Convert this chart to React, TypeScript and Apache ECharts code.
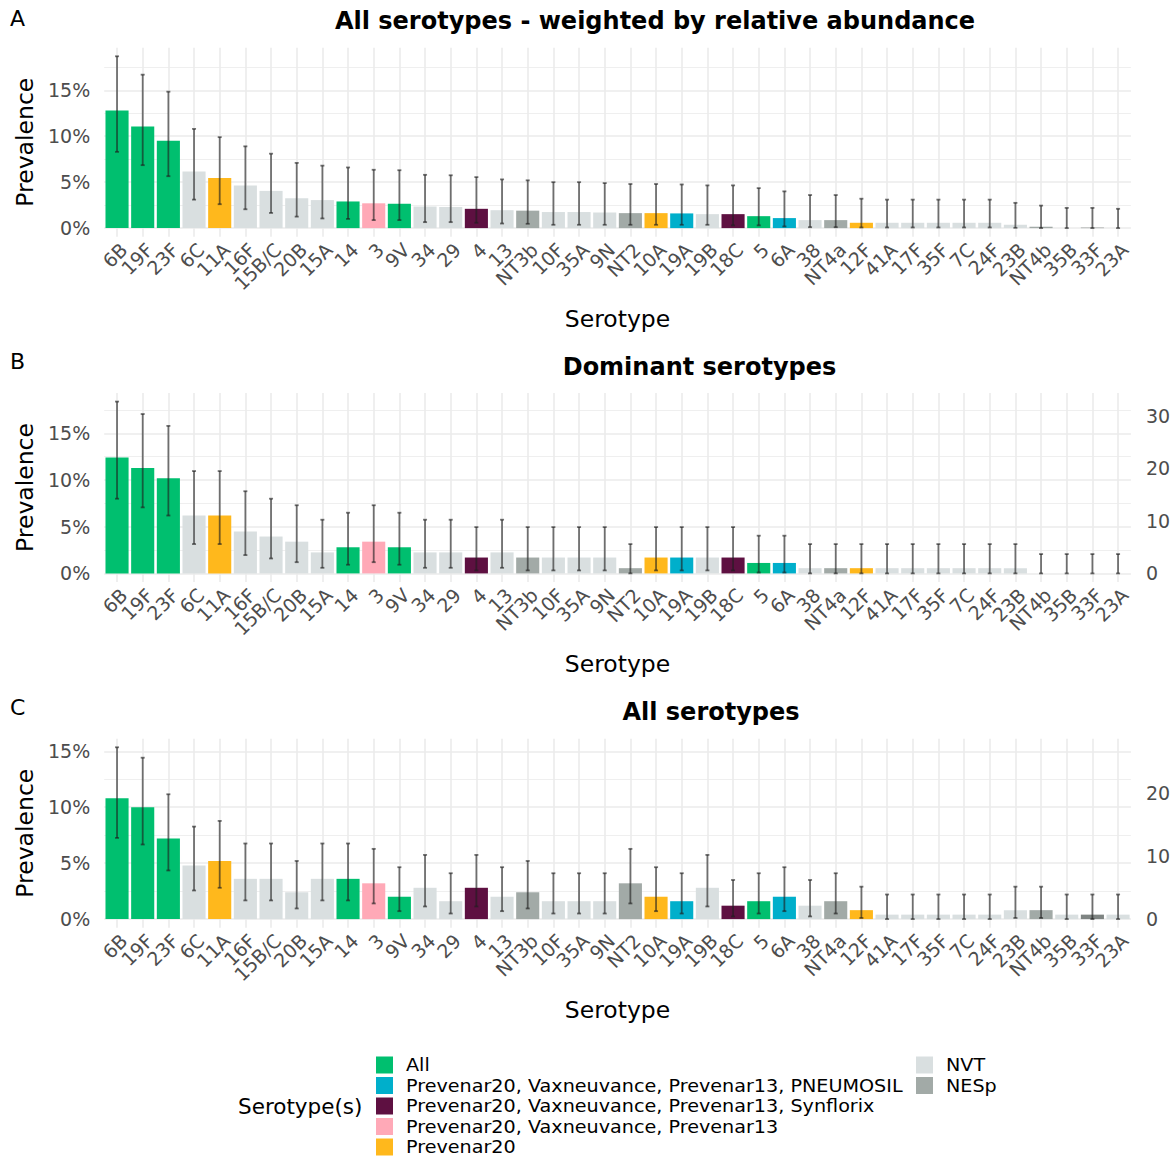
import React, { useEffect, useRef } from "react";
import * as echarts from "echarts";

// ---------- data ----------
const categories = ["6B","19F","23F","6C","11A","16F","15B/C","20B","15A","14","3","9V","34","29","4","13","NT3b","10F","35A","9N","NT2","10A","19A","19B","18C","5","6A","38","NT4a","12F","41A","17F","35F","7C","24F","23B","NT4b","35B","33F","23A"];

const groups = ["All","All","All","NVT","P20","NVT","NVT","NVT","NVT","All","P13","All","NVT","NVT","SYN","NVT","NES","NVT","NVT","NVT","NES","P20","PNE","NVT","SYN","All","PNE","NVT","NES","P20","NVT","NVT","NVT","NVT","NVT","NVT","NES","NVT","X","NVT"];

// Panel A: weighted by relative abundance (%)
const aValue = [12.8,11.05,9.5,6.15,5.45,4.65,4.05,3.25,3.05,2.9,2.7,2.65,2.35,2.3,2.1,1.95,1.9,1.75,1.75,1.7,1.63,1.63,1.6,1.52,1.52,1.3,1.09,0.87,0.87,0.58,0.58,0.58,0.58,0.58,0.58,0.36,0.15,0,0.05,0];
const aLow = [8.3,6.85,5.65,3.1,2.6,2.05,1.65,1.25,1.05,1.0,0.87,0.87,0.65,0.65,0.58,0.5,0.47,0.36,0.36,0.36,0.36,0.36,0.36,0.36,0.3,0.3,0.18,0.1,0.1,0.07,0.07,0.07,0.07,0.07,0.07,0.03,0,0,0,0];
const aHigh = [18.7,16.7,14.85,10.8,9.9,8.9,8.1,7.1,6.8,6.6,6.35,6.3,5.8,5.75,5.55,5.3,5.2,5.0,5.0,4.9,4.8,4.8,4.75,4.65,4.65,4.35,4.0,3.6,3.6,3.2,3.1,3.1,3.1,3.1,3.1,2.75,2.45,2.2,2.2,2.1];

// Panel B: dominant serotypes (%)
const bValue = [12.4,11.3,10.2,6.2,6.2,4.5,3.95,3.4,2.25,2.8,3.4,2.8,2.25,2.25,1.7,2.25,1.7,1.7,1.7,1.7,0.56,1.7,1.7,1.7,1.7,1.12,1.12,0.56,0.56,0.56,0.56,0.56,0.56,0.56,0.56,0.56,0,0,0,0];
const bLow = [8.0,7.07,6.2,3.14,3.14,1.96,1.6,1.2,0.6,0.93,1.2,0.93,0.6,0.6,0.32,0.6,0.32,0.32,0.32,0.32,0,0.32,0.32,0.32,0.32,0.1,0.1,0,0,0,0,0,0,0,0,0,0,0,0,0];
const bHigh = [18.4,17.07,15.8,10.96,10.96,8.8,8.0,7.3,5.75,6.5,7.3,6.5,5.75,5.75,4.96,5.75,4.96,4.96,4.96,4.96,3.14,4.96,4.96,4.96,4.96,4.04,4.04,3.14,3.14,3.14,3.14,3.14,3.14,3.14,3.14,3.14,2.07,2.07,2.07,2.07];

// Panel C: all serotypes (%)
const cValue = [10.8,10.0,7.2,4.8,5.2,3.6,3.6,2.4,3.6,3.6,3.2,2.0,2.8,1.6,2.8,2.0,2.4,1.6,1.6,1.6,3.2,2.0,1.6,2.8,1.2,1.6,2.0,1.2,1.6,0.8,0.4,0.4,0.4,0.4,0.4,0.8,0.8,0.4,0.4,0.4];
const cLow = [7.26,6.67,4.35,2.56,2.8,1.67,1.67,0.95,1.67,1.67,1.4,0.71,1.13,0.5,1.13,0.71,0.95,0.5,0.5,0.5,1.4,0.71,0.5,1.13,0.24,0.5,0.71,0.24,0.5,0.1,0,0,0,0,0,0.1,0.1,0,0,0];
const cHigh = [15.36,14.43,11.16,8.27,8.78,6.76,6.76,5.2,6.76,6.76,6.28,4.64,5.74,4.1,5.74,4.64,5.2,4.1,4.1,4.1,6.28,4.64,4.1,5.74,3.5,4.1,4.64,3.5,4.1,2.9,2.2,2.2,2.2,2.2,2.2,2.9,2.9,2.2,2.2,2.2];

const panelTitles = ["All serotypes - weighted by relative abundance", "Dominant serotypes", "All serotypes"];
const panelTags = ["A", "B", "C"];

const legendKeys = ["All","PNE","SYN","P13","P20","NVT","NES"];
const legendLabels = [
  "All",
  "Prevenar20, Vaxneuvance, Prevenar13, PNEUMOSIL",
  "Prevenar20, Vaxneuvance, Prevenar13, Synflorix",
  "Prevenar20, Vaxneuvance, Prevenar13",
  "Prevenar20",
  "NVT",
  "NESp",
];
const groupColors: Record<string, string> = {
  All: "#00BF6F",
  PNE: "#00AFCB",
  SYN: "#5E1041",
  P13: "#FFA9B7",
  P20: "#FFB81C",
  NVT: "#D9DFE0",
  NES: "#A2AAA7",
  X: "#7E8482",
};

const SEC_FACTOR = 1.78; // secondary (count) axis per percent

// ---------- layout ----------
const FONT = '"DejaVu Sans", "Liberation Sans", sans-serif';
const GRID_LEFT = 104.2;
const GRID_RIGHT = 45.1;
const GRID_H = 189;
const panelTop = [47.7, 393, 738.7];
const panelMin = [-0.935, -0.92, -0.768];
const panelMax = [19.635, 19.32, 16.128];
const panelSecondary = [false, true, true];
const titleCenterX = [655, 699.5, 711];
const titleY = [21, 367, 712];
const tagY = [18, 361, 707];

export default function App() {
  const ref = useRef<HTMLDivElement>(null);
  useEffect(() => {
    if (!ref.current) return;
    const chart = echarts.init(ref.current, null, { renderer: "svg" });

    const data = [
      [aValue, aLow, aHigh],
      [bValue, bLow, bHigh],
      [cValue, cLow, cHigh],
    ];

    const grid: any[] = [];
    const xAxis: any[] = [];
    const yAxis: any[] = [];
    const series: any[] = [];
    const gridColor = "#EBEBEB";

    data.forEach(([vals, lows, highs], p) => {
      grid.push({ left: GRID_LEFT, right: GRID_RIGHT, top: panelTop[p], height: GRID_H, containLabel: false });
      xAxis.push({
        type: "category",
        gridIndex: p,
        data: categories,
        axisLine: { show: false, onZero: false },
        axisTick: { show: false },
        splitLine: { show: false },
        axisLabel: {
          rotate: 45, interval: 0, fontSize: 19, color: "#4D4D4D", margin: 3, fontFamily: FONT,
          align: "right", verticalAlign: "top",
        },
        name: "Serotype",
        nameLocation: "middle",
        nameGap: 70,
        nameTextStyle: { fontSize: 23.5, color: "#000", fontFamily: FONT },
      });
      const leftIdx = yAxis.length;
      yAxis.push({
        type: "value",
        gridIndex: p,
        min: panelMin[p],
        max: panelMax[p],
        splitNumber: 4,
        minInterval: 5,
        maxInterval: 5,
        axisLine: { show: false },
        axisTick: { show: false },
        splitLine: { show: false },
        axisLabel: {
          fontSize: 19, color: "#4D4D4D", margin: 14, fontFamily: FONT,
          formatter: (v: number) => (Math.abs(v / 5 - Math.round(v / 5)) < 1e-6 ? `${Math.round(v)}%` : ""),
        },
        name: "Prevalence",
        nameLocation: "middle",
        nameRotate: 90,
        nameGap: 59,
        nameTextStyle: { fontSize: 23.5, color: "#000", fontFamily: FONT },
      });
      if (panelSecondary[p]) {
        yAxis.push({
          type: "value",
          gridIndex: p,
          position: "right",
          min: panelMin[p] * SEC_FACTOR,
          max: panelMax[p] * SEC_FACTOR,
          splitNumber: 3,
          minInterval: 10,
          maxInterval: 10,
          axisLine: { show: false },
          axisTick: { show: false },
          splitLine: { show: false },
          axisLabel: {
            fontSize: 19, color: "#4D4D4D", margin: 15, fontFamily: FONT,
            formatter: (v: number) => (Math.abs(v / 10 - Math.round(v / 10)) < 1e-6 ? `${Math.round(v)}` : ""),
          },
        });
      }
      const hLines: any[] = [];
      for (let v = 0; v <= panelMax[p]; v += 2.5) {
        const major = Math.abs(v / 5 - Math.round(v / 5)) < 1e-6;
        hLines.push({ yAxis: v, lineStyle: { width: major ? 1.6 : 0.8 } });
      }
      const vLines = categories.map((_, i) => ({ xAxis: i, lineStyle: { width: 1.6 } }));
      series.push({
        type: "bar",
        xAxisIndex: p,
        yAxisIndex: leftIdx,
        barWidth: "90%",
        z: 2,
        data: vals.map((v, i) => ({ value: v, itemStyle: { color: groupColors[groups[i]] } })),
        markLine: {
          silent: true,
          z: 0,
          symbol: ["none", "none"],
          label: { show: false },
          lineStyle: { color: gridColor, type: "solid", width: 1.6 },
          data: [...hLines, ...vLines],
        },
      });
      series.push({
        type: "custom",
        xAxisIndex: p,
        yAxisIndex: leftIdx,
        z: 3,
        data: categories.map((_, i) => [i, lows[i], highs[i]]),
        encode: { x: 0, y: [1, 2] },
        renderItem: (params: any, api: any) => {
          const i = api.value(0);
          const top = api.coord([i, api.value(2)]);
          const bot = api.coord([i, api.value(1)]);
          const w = 2;
          const style = { stroke: "rgba(30,30,30,0.62)", lineWidth: 1.8 };
          return {
            type: "group",
            children: [
              { type: "line", shape: { x1: top[0], y1: top[1], x2: bot[0], y2: bot[1] }, style },
              { type: "line", shape: { x1: top[0] - w, y1: top[1], x2: top[0] + w, y2: top[1] }, style },
              { type: "line", shape: { x1: bot[0] - w, y1: bot[1], x2: bot[0] + w, y2: bot[1] }, style },
            ],
          };
        },
      });
    });

    const graphic: any[] = [];
    panelTitles.forEach((t, p) => {
      graphic.push({
        type: "text", x: titleCenterX[p], y: titleY[p],
        style: { text: t, font: `bold 24px ${FONT}`, fill: "#000", textAlign: "center", textVerticalAlign: "middle", align: "center", verticalAlign: "middle" },
      });
      graphic.push({
        type: "text", x: 10, y: tagY[p],
        style: { text: panelTags[p], font: `22px ${FONT}`, fill: "#000", textAlign: "left", textVerticalAlign: "middle", align: "left", verticalAlign: "middle" },
      });
    });
    // legend
    graphic.push({
      type: "text", x: 238, y: 1106,
      style: { text: "Serotype(s)", font: `21.5px ${FONT}`, fill: "#000", textAlign: "left", textVerticalAlign: "middle", align: "left", verticalAlign: "middle" },
    });
    legendKeys.forEach((k, j) => {
      const col = j < 5 ? 0 : 1;
      const row = j < 5 ? j : j - 5;
      const kx = col === 0 ? 376 : 916;
      const cy = 1065 + row * 20.5;
      graphic.push({ type: "rect", shape: { x: kx, y: cy - 8.5, width: 17, height: 17 }, style: { fill: groupColors[k] } });
      graphic.push({
        type: "text", x: kx + 30, y: cy, scaleX: 1.09,
        style: { text: legendLabels[j], font: `17.6px ${FONT}`, lineHeight: 18, fill: "#000", textAlign: "left", textVerticalAlign: "middle", align: "left", verticalAlign: "middle" },
      });
    });

    chart.setOption({
      animation: false,
      backgroundColor: "#fff",
      textStyle: { fontFamily: FONT },
      grid,
      xAxis,
      yAxis,
      series,
      graphic,
    });
    return () => chart.dispose();
  }, []);
  return <div ref={ref} style={{ position: "absolute", left: 0, top: 0, width: 1176, height: 1157 }} />;
}
